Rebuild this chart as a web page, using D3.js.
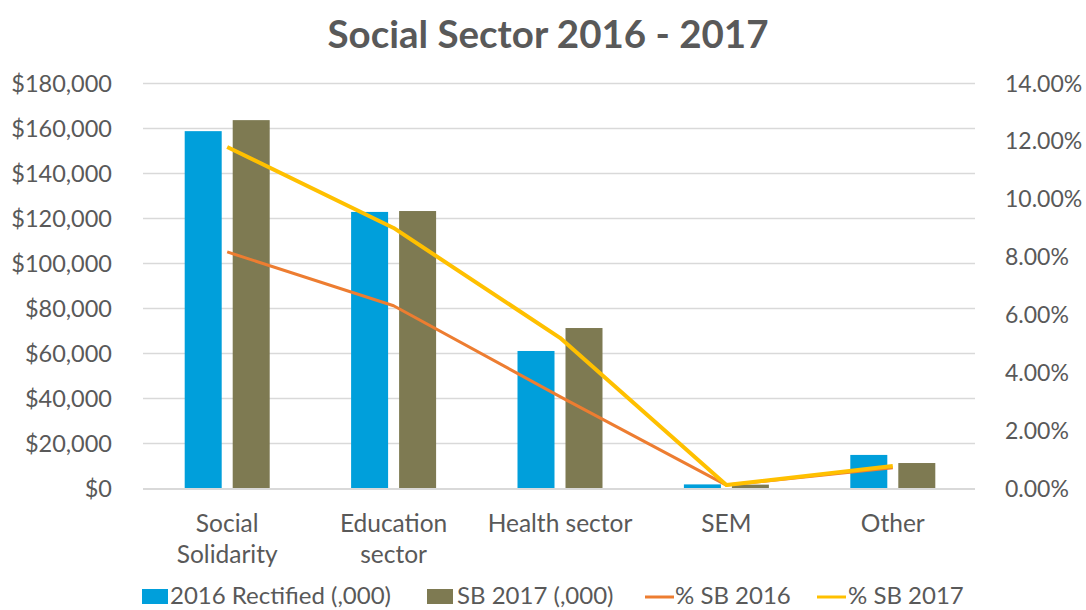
<!DOCTYPE html>
<html><head><meta charset="utf-8">
<script src="https://cdn.jsdelivr.net/npm/d3@7"></script>
<style>body{margin:0;background:#fff}svg{display:block}text{font-family:Lato,"Open Sans",sans-serif;fill:#595959}</style>
</head><body><svg id="c" width="1086" height="610"></svg>
<script>
const categories = [["Social","Solidarity"],["Education","sector"],["Health sector"],["SEM"],["Other"]];
const rectified2016 = [158600, 122700, 60900, 1600, 14700];
const sb2017 = [163500, 123100, 71100, 1500, 11100];
const pct2016 = [0.0816, 0.0630, 0.0316, 0.0010, 0.0070];
const pct2017 = [0.1179, 0.0899, 0.0519, 0.0010, 0.0076];
const leftTicks = [0,20000,40000,60000,80000,100000,120000,140000,160000,180000];
const rightTicks = [0,0.02,0.04,0.06,0.08,0.10,0.12,0.14];
const seriesNames = ["2016 Rectified (,000)","SB 2017 (,000)","% SB 2016","% SB 2017"];
const colors = ["#009fdb","#7e7a52","#ed7d31","#ffc000"];

const svg = d3.select("#c");
const L=143, R=975, T=83, B=488;
const x = d3.scaleBand().domain(d3.range(5)).range([L,R]);
const y = d3.scaleLinear().domain([0,180000]).range([B,T]);
const y2 = d3.scaleLinear().domain([0,0.14]).range([B,T]);

svg.append("text").attr("x",548).attr("y",48).attr("text-anchor","middle")
  .style("font-size","38.5px").style("font-weight","bold").text("Social Sector 2016 - 2017");

// gridlines
svg.append("g").selectAll("line").data(leftTicks.slice(1)).join("line")
  .attr("x1",L).attr("x2",R).attr("y1",d=>Math.round(y(d))+0.5).attr("y2",d=>Math.round(y(d))+0.5)
  .attr("stroke","#d9d9d9").attr("stroke-width",1.5);

// left axis
const ga = svg.append("g").attr("transform",`translate(${L-31},0)`)
  .call(d3.axisLeft(y).tickValues(leftTicks).tickSize(0).tickPadding(0).tickFormat(d=>"$"+d3.format(",")(d)));
ga.select(".domain").remove();
ga.selectAll("text").style("font-size","23.5px").style("fill","#595959").style("font-family","Lato,sans-serif").attr("dy","0.35em");

const gr = svg.append("g").attr("transform",`translate(${R+30},0)`)
  .call(d3.axisRight(y2).tickValues(rightTicks).tickSize(0).tickPadding(0).tickFormat(d3.format(".2%")));
gr.select(".domain").remove();
gr.selectAll("text").style("font-size","23px").style("fill","#595959").style("font-family","Lato,sans-serif").attr("dy","0.35em");

// bars
const bw = 37, gap = 11;
const groups = [rectified2016, sb2017];
groups.forEach((arr,si)=>{
  svg.append("g").selectAll("rect").data(arr).join("rect")
    .attr("x",(d,i)=>x(i)+x.bandwidth()/2 - bw - gap/2 + si*(bw+gap) + 1)
    .attr("y",d=>y(d)).attr("width",bw).attr("height",d=>B-y(d))
    .attr("fill",colors[si]);
});

// baseline
svg.append("line").attr("x1",L).attr("x2",R).attr("y1",B+1).attr("y2",B+1).attr("stroke","#d9d9d9").attr("stroke-width",2);

// lines
const cx = i=>x(i)+x.bandwidth()/2+1;
[[pct2016,3],[pct2017,4]].forEach(([arr,w],k)=>{
  svg.append("path").datum(arr)
    .attr("d",d3.line().x((d,i)=>cx(i)).y(d=>y2(d)))
    .attr("fill","none").attr("stroke",colors[2+k]).attr("stroke-width",w).attr("stroke-linejoin","round");
});

// category labels
categories.forEach((lines,i)=>{
  const t = svg.append("text").attr("x",cx(i)).attr("y",532).attr("text-anchor","middle").style("font-size","24.5px");
  lines.forEach((s,j)=>t.append("tspan").attr("x",cx(i)).attr("dy",j?31:0).text(s));
});

// legend
const legX = [142, 427, 645, 817];
const legT = [170, 457, 675, 848];
seriesNames.forEach((n,i)=>{
  const g = svg.append("g");
  if(i<2) g.append("rect").attr("x",legX[i]).attr("y",589).attr("width",26).attr("height",15).attr("fill",colors[i]);
  else g.append("line").attr("x1",legX[i]).attr("x2",legX[i]+29).attr("y1",597).attr("y2",597).attr("stroke",colors[i]).attr("stroke-width",3);
  g.append("text").attr("x",legT[i]).attr("y",604).style("font-size","24px").text(n);
});
</script></body></html>
